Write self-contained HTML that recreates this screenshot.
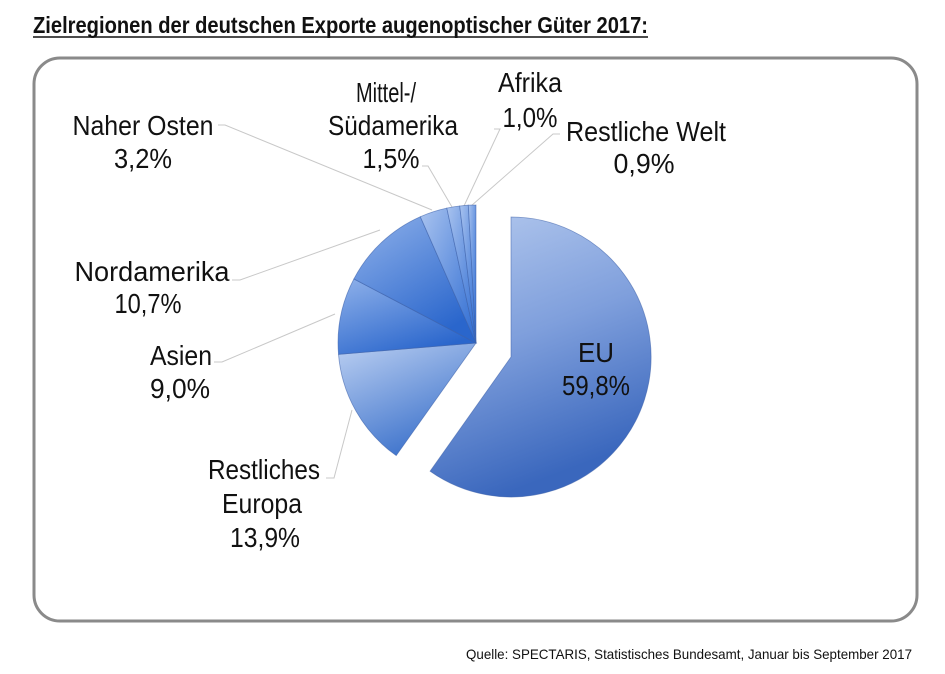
<!DOCTYPE html>
<html><head><meta charset="utf-8"><style>
html,body{margin:0;padding:0;background:#fff;}
svg{display:block;}
text{font-family:"Liberation Sans",Arial,sans-serif;fill:#111;}
</style></head><body>
<svg width="945" height="674" viewBox="0 0 945 674" xmlns="http://www.w3.org/2000/svg">
<defs>
<linearGradient id="gEU" x1="0" y1="0" x2="0.3" y2="1"><stop offset="0" stop-color="#b4c9ee"/><stop offset="0.5" stop-color="#7f9fdc"/><stop offset="1" stop-color="#3a67bd"/></linearGradient>
<linearGradient id="gL" x1="0" y1="0" x2="0.5" y2="1"><stop offset="0" stop-color="#bcd0f2"/><stop offset="1" stop-color="#3f74cc"/></linearGradient>
<linearGradient id="gM" x1="0" y1="0" x2="0.6" y2="1"><stop offset="0" stop-color="#8fb1ea"/><stop offset="1" stop-color="#2a66cc"/></linearGradient>
<linearGradient id="gN" x1="0" y1="0" x2="1" y2="1"><stop offset="0" stop-color="#a9c3ef"/><stop offset="1" stop-color="#2d6bd2"/></linearGradient>
</defs>
<text x="33" y="33" font-size="23" font-weight="bold" textLength="615" lengthAdjust="spacingAndGlyphs">Zielregionen der deutschen Exporte augenoptischer Güter 2017:</text>
<line x1="33" y1="37" x2="648" y2="37" stroke="#111" stroke-width="1.5"/>
<rect x="34" y="58" width="883" height="563" rx="26" ry="26" fill="#fff" stroke="#8a8a8a" stroke-width="3"/>
<g stroke="#c8c8c8" stroke-width="1" fill="none">
<polyline points="218,125 225,125 432,210"/>
<polyline points="422,166 428,166 452,207"/>
<polyline points="494,129 500,129 464,206"/>
<polyline points="560,134 553,134 471,206"/>
<polyline points="232,280 240,280 380,230"/>
<polyline points="214,362 222,362 335,314"/>
<polyline points="326,478 334,478 352,410"/>
</g>
<g stroke="#3b5fa8" stroke-width="0.8" stroke-opacity="0.6">
<path d="M476,343 L396.2,455.6 A138,138 0 0,1 338.5,354.3 Z" fill="url(#gL)"/>
<path d="M476,343 L338.5,354.3 A138,138 0 0,1 353.9,278.9 Z" fill="url(#gM)"/>
<path d="M476,343 L353.9,278.9 A138,138 0 0,1 420.3,216.7 Z" fill="url(#gM)"/>
<path d="M476,343 L420.3,216.7 A138,138 0 0,1 446.8,208.1 Z" fill="url(#gN)"/>
<path d="M476,343 L446.8,208.1 A138,138 0 0,1 459.7,206 Z" fill="url(#gN)"/>
<path d="M476,343 L459.7,206 A138,138 0 0,1 468.3,205.2 Z" fill="url(#gN)"/>
<path d="M476,343 L468.3,205.2 A138,138 0 0,1 476,205 Z" fill="url(#gN)"/>
<path d="M511,357 L511,217 A140,140 0 1,1 430.1,471.2 Z" fill="url(#gEU)"/>
</g>
<g font-size="28" text-anchor="middle">
<text x="143" y="135" textLength="141" lengthAdjust="spacingAndGlyphs">Naher Osten</text>
<text x="143" y="168" textLength="58" lengthAdjust="spacingAndGlyphs">3,2%</text>
<text x="386" y="102" textLength="60" lengthAdjust="spacingAndGlyphs">Mittel-/</text>
<text x="393" y="135" textLength="130" lengthAdjust="spacingAndGlyphs">Südamerika</text>
<text x="391" y="168" textLength="57" lengthAdjust="spacingAndGlyphs">1,5%</text>
<text x="530" y="92" textLength="64" lengthAdjust="spacingAndGlyphs">Afrika</text>
<text x="530" y="127" textLength="55" lengthAdjust="spacingAndGlyphs">1,0%</text>
<text x="646" y="141" textLength="160" lengthAdjust="spacingAndGlyphs">Restliche Welt</text>
<text x="644" y="173" textLength="61" lengthAdjust="spacingAndGlyphs">0,9%</text>
<text x="152" y="281" textLength="155" lengthAdjust="spacingAndGlyphs">Nordamerika</text>
<text x="148" y="313" textLength="67" lengthAdjust="spacingAndGlyphs">10,7%</text>
<text x="181" y="365" textLength="62" lengthAdjust="spacingAndGlyphs">Asien</text>
<text x="180" y="398" textLength="60" lengthAdjust="spacingAndGlyphs">9,0%</text>
<text x="264" y="479" textLength="112" lengthAdjust="spacingAndGlyphs">Restliches</text>
<text x="262" y="513" textLength="80" lengthAdjust="spacingAndGlyphs">Europa</text>
<text x="265" y="547" textLength="70" lengthAdjust="spacingAndGlyphs">13,9%</text>
<text x="596" y="362" textLength="36" lengthAdjust="spacingAndGlyphs">EU</text>
<text x="596" y="395" textLength="68" lengthAdjust="spacingAndGlyphs">59,8%</text>
</g>
<text x="912" y="659" font-size="14" text-anchor="end" textLength="446" lengthAdjust="spacingAndGlyphs">Quelle: SPECTARIS, Statistisches Bundesamt, Januar bis September 2017</text>
</svg>
</body></html>
